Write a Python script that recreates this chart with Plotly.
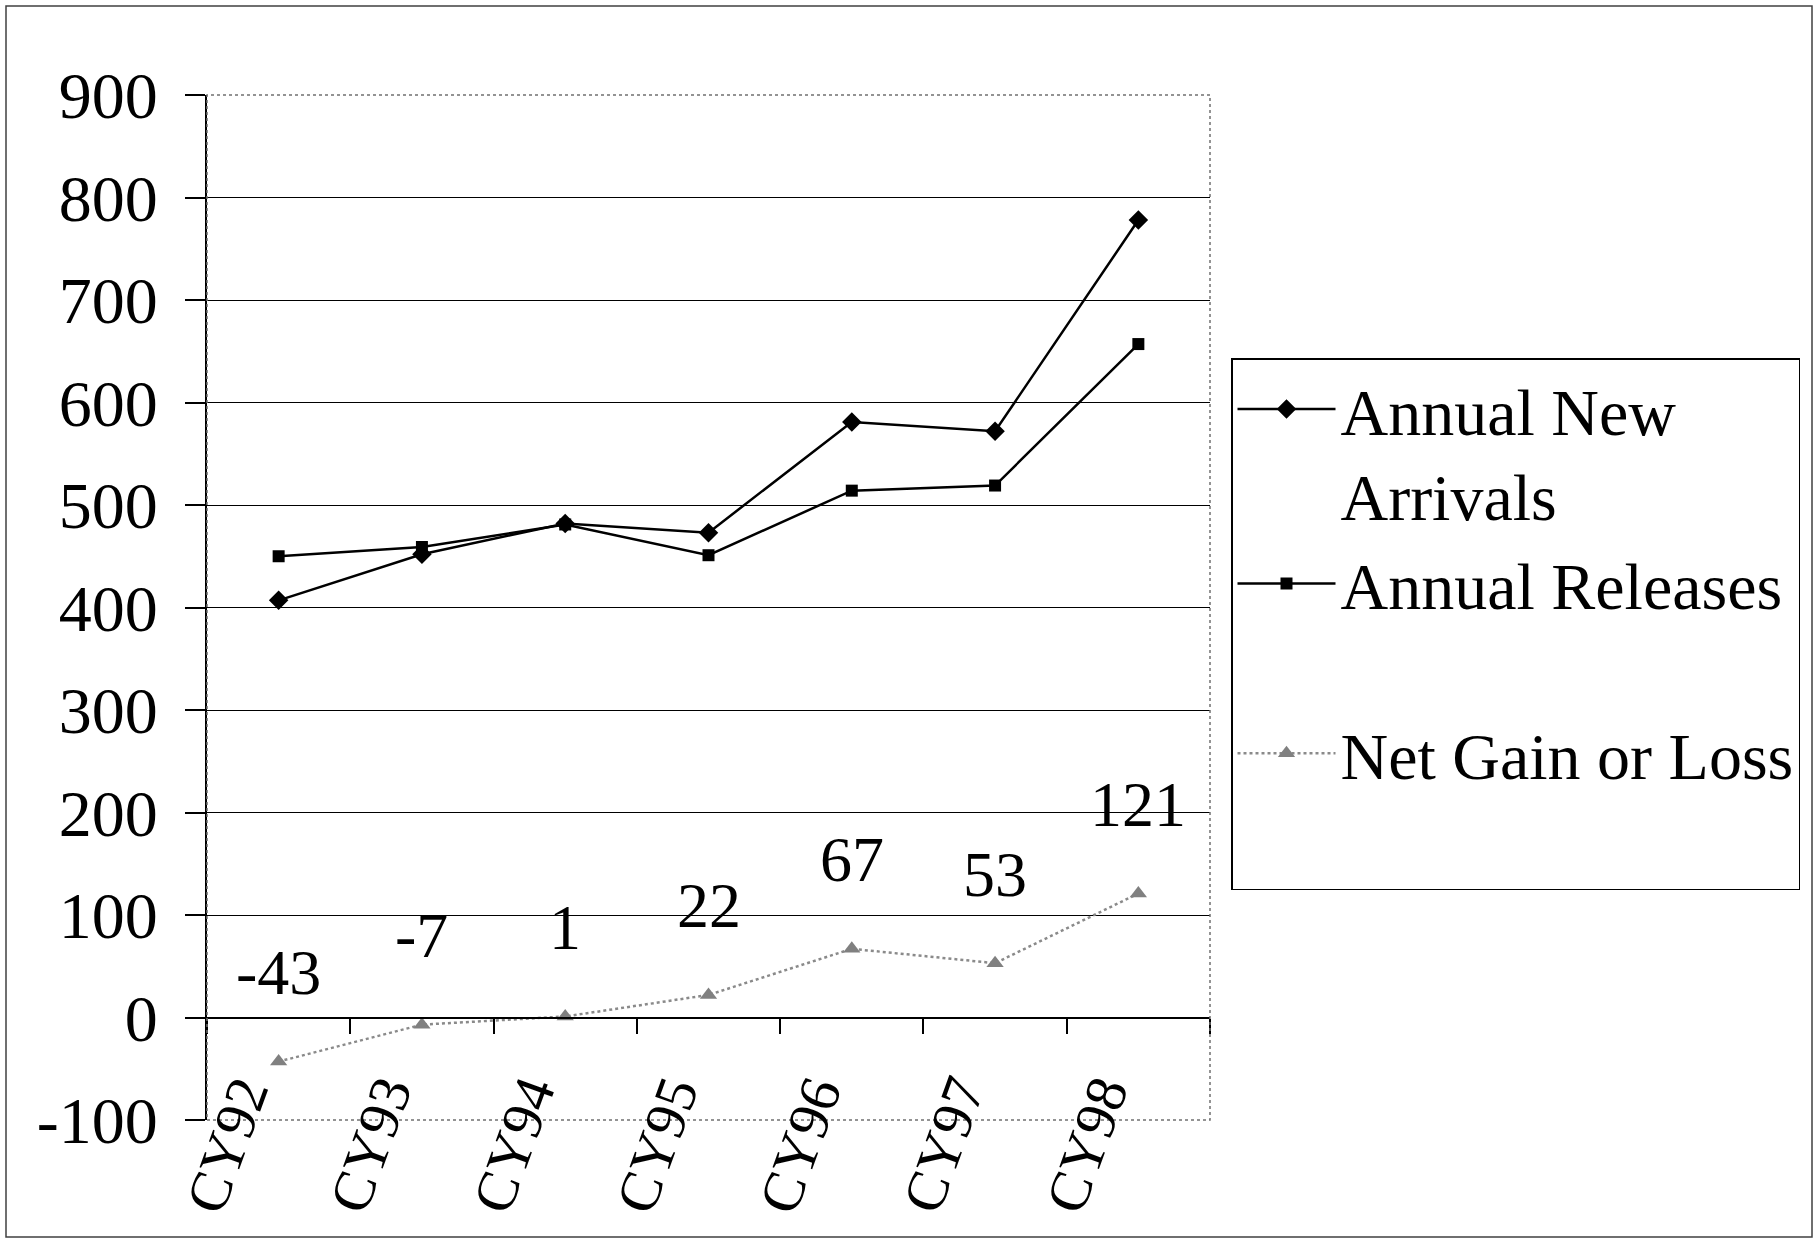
import plotly.graph_objects as go

# Calendar-year categories and annual counts
categories = ["CY92", "CY93", "CY94", "CY95", "CY96", "CY97", "CY98"]
new_arrivals = [407, 452, 482, 473, 581, 572, 778]
releases = [450, 459, 481, 451, 514, 519, 657]
net_change = [-43, -7, 1, 22, 67, 53, 121]

# value-axis ticks (plain hyphen for negatives)
y_ticks = [-100, 0, 100, 200, 300, 400, 500, 600, 700, 800, 900]
y_tick_text = [str(v) for v in y_ticks]
y_min, y_max = y_ticks[0], y_ticks[-1]

FONT = "Liberation Serif, Times New Roman, serif"
W, H = 1819, 1239
M_L, M_R, M_T, M_B = 207, 609, 95, 119
PW, PH = W - M_L - M_R, H - M_T - M_B

fig = go.Figure()

fig.add_trace(go.Scatter(
    x=categories, y=new_arrivals, name="Annual New<br>Arrivals",
    mode="lines+markers", legendgroup="a",
    line=dict(color="#000000", width=2.5),
    marker=dict(symbol="diamond", size=15, color="#000000"),
))
fig.add_trace(go.Scatter(
    x=categories, y=releases, name="Annual Releases",
    mode="lines+markers", legendgroup="a",
    line=dict(color="#000000", width=2.5),
    marker=dict(symbol="square", size=12, color="#000000"),
))
fig.add_trace(go.Scatter(
    x=categories, y=net_change, name="Net Gain or Loss<br> ",
    mode="lines+markers", legendgroup="b",
    line=dict(color="#8a8a8a", width=2.5, dash="dot"),
    marker=dict(symbol="triangle-up", size=15, color="#808080"),
))

# value labels above the net series
for c, v in zip(categories, net_change):
    fig.add_annotation(
        x=c, y=v, xref="x", yref="y", text=str(v), showarrow=False,
        yshift=89, font=dict(family=FONT, size=64, color="#000000"),
    )

# rotated category labels under the plot
for c in categories:
    fig.add_annotation(
        x=c, y=y_min, xref="x", yref="y", text=c, showarrow=False,
        textangle=-70, xanchor="right", yanchor="top",
        xshift=6, yshift=54,
        font=dict(family=FONT, size=58, color="#000000"),
    )

# horizontal axis crosses the value axis at zero
zero_pos = (0 - y_min) / (y_max - y_min)

fig.update_layout(
    width=W, height=H,
    margin=dict(l=M_L, r=M_R, t=M_T, b=M_B),
    paper_bgcolor="#ffffff", plot_bgcolor="#ffffff",
    font=dict(family=FONT, size=64, color="#000000"),
    showlegend=True,
    legend=dict(
        x=(1231 - M_L) / PW, y=(H - M_B - 358) / PH,
        xanchor="left", yanchor="top",
        bordercolor="#000000", borderwidth=1.5, bgcolor="#ffffff",
        font=dict(family=FONT, size=66, color="#000000"),
        itemwidth=98, valign="top", tracegroupgap=81,
    ),
    xaxis=dict(
        type="category", categoryarray=categories, categoryorder="array",
        range=[-0.5, len(categories) - 0.5],
        anchor="free", position=zero_pos,
        showline=True, linecolor="#000000", linewidth=2,
        ticks="outside", tickson="boundaries", ticklen=15, tickwidth=1.5,
        tickcolor="#000000", showticklabels=False, showgrid=False,
        zeroline=False,
    ),
    yaxis=dict(
        range=[y_min, y_max], tickmode="array", tickvals=y_ticks, ticktext=y_tick_text,
        showline=True, linecolor="#000000", linewidth=2,
        ticks="outside", ticklen=20, tickwidth=1.5, tickcolor="#000000",
        showgrid=True, gridcolor="#000000", gridwidth=1.2,
        zeroline=False, ticklabelstandoff=14,
        tickfont=dict(family=FONT, size=66, color="#000000"),
    ),
    shapes=[
        # plot-area frame
        dict(type="rect", xref="x domain", yref="y domain", x0=0, x1=1, y0=0, y1=1,
             line=dict(color="#707070", width=1.5, dash="dot"), layer="above"),
        # chart frame
        dict(type="rect", xref="paper", yref="paper",
             x0=(6 - M_L) / PW, x1=(1812 - M_L) / PW,
             y0=(H - M_B - 1237) / PH, y1=(H - M_B - 6) / PH,
             line=dict(color="#404040", width=1.5)),
    ],
)

fig.write_html("out.html")
